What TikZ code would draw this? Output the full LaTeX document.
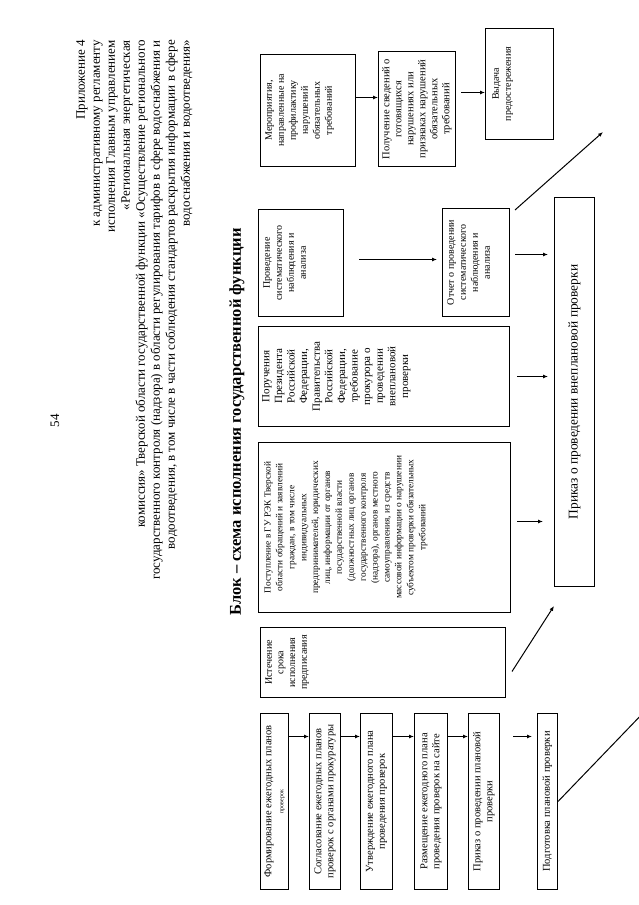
\documentclass[tikz,border=0pt]{standalone}
\usepackage{fontspec}
\setmainfont{Liberation Serif}
\usetikzlibrary{arrows.meta,positioning}

\tikzset{
  box/.style={draw, line width=1pt, inner sep=0pt, anchor=north west},
  txt/.style={align=center, inner sep=0pt},
  arr/.style={-{Latex[length=5pt,width=4pt]}, line width=1pt},
}

\begin{document}
\begin{tikzpicture}[x=1pt, y=1pt]
\useasboundingbox (0,0) rectangle (639,905);
% page is turned: draw it as the landscape sheet
\begin{scope}[shift={(639,0)}, rotate=90, transform shape]

\node[anchor=north east, align=right, inner sep=0pt, font=\fontsize{13}{15}\selectfont] (header) at (865,563)
  {Приложение 4\\
   к административному регламенту\\
   исполнения Главным управлением\\
   «Региональная энергетическая\\
   комиссия» Тверской области государственной функции «Осуществление регионального\\
   государственного контроля (надзора) в области регулирования тарифов в сфере водоснабжения и\\
   водоотведения, в том числе в части соблюдения стандартов раскрытия информации в сфере\\
   водоснабжения и водоотведения»};
\node[font=\fontsize{13}{15}\selectfont] (pagenum) at (484,584) {54};
\node[font=\bfseries\fontsize{16.5}{18}\selectfont] (title) at (483,402)
  {Блок – схема исполнения государственной функции};

% upper chain
\node[box, minimum width=112pt, minimum height=95pt] (merop) at (738,379) {};
\node[txt, font=\fontsize{10}{12}\selectfont, below=5pt of merop.north] (meropT)
  {Мероприятия,\\ направленные на\\ профилактику\\ нарушений\\ обязательных\\ требований};
\node[box, minimum width=115pt, minimum height=77pt] (poluch) at (738,261) {};
\node[txt, font=\fontsize{10.5}{12}\selectfont, below=4pt of poluch.north] (poluchT)
  {Получение сведений о\\ готовящихся\\ нарушениях или\\ признаках нарушений\\ обязательных\\ требований};
\node[box, minimum width=111pt, minimum height=68pt] (vydacha) at (765,154) {};
\node[txt, font=\fontsize{10}{12}\selectfont, below=7pt of vydacha.north] (vydachaT)
  {Выдача\\ предостережения};

% unplanned inspection
\node[box, minimum width=107pt, minimum height=85pt] (proved) at (588,381) {};
\node[txt, font=\fontsize{10}{12}\selectfont, below=5pt of proved.north] (provedT)
  {Проведение\\ систематического\\ наблюдения и\\ анализа};
\node[box, minimum width=108pt, minimum height=67pt] (otchet) at (588,197) {};
\node[txt, font=\fontsize{10}{12}\selectfont, below=5pt of otchet.north] (otchetT)
  {Отчет о проведении\\ систематического\\ наблюдения и\\ анализа};
\node[box, minimum width=100pt, minimum height=251pt] (poruch) at (478,381) {};
\node[txt, font=\fontsize{11}{12.6}\selectfont, below=4pt of poruch.north] (poruchT)
  {Поручения\\ Президента\\ Российской\\ Федерации,\\ Правительства\\ Российской\\ Федерации,\\ требование\\ прокурора о\\ проведении\\ внеплановой\\ проверки};
\node[box, minimum width=170pt, minimum height=252pt] (postup) at (292,381) {};
\node[txt, font=\fontsize{9.3}{11.9}\selectfont, below=6pt of postup.north] (postupT)
  {Поступление в ГУ РЭК Тверской\\ области обращений и заявлений\\ граждан, в том числе\\ индивидуальных\\
   предпринимателей, юридических\\ лиц, информации от органов\\ государственной власти\\ (должностных лиц органов\\
   государственного контроля\\ (надзора), органов местного\\ самоуправления, из средств\\ массовой информации о нарушении\\
   субъектом проверки обязательных\\ требований};
\node[box, minimum width=70pt, minimum height=245pt] (istech) at (207,379) {};
\node[txt, font=\fontsize{10}{11.7}\selectfont, below=5pt of istech.north] (istechT)
  {Истечение\\ срока\\ исполнения\\ предписания};
\node[box, minimum width=389pt, minimum height=40pt, font=\fontsize{13.4}{15}\selectfont] (prikazV) at (318,85)
  {Приказ о проведении внеплановой проверки};

% planned inspection
\tikzset{plan/.style={box, minimum width=176pt, align=center, font=\fontsize{10.5}{12}\selectfont}}
\node[plan, minimum height=28pt] (form) at (15,379)
  {Формирование ежегодных планов\\ {\fontsize{6}{7}\selectfont проверок}};
\node[plan, minimum height=31pt] (soglas) at (15,330)
  {Согласование ежегодных планов\\ проверок с органами прокуратуры};
\node[plan, minimum height=32pt] (utv) at (15,279)
  {Утверждение ежегодного плана\\ проведения проверок};
\node[plan, minimum height=33pt] (razm) at (15,225)
  {Размещение ежегодного плана\\ проведения проверок на сайте};
\node[plan, minimum height=31pt] (prikazP) at (15,171)
  {Приказ о проведении плановой\\ проверки};
\node[plan, minimum height=20pt] (podgot) at (15,102)
  {Подготовка плановой проверки};

\coordinate (warnEnd) at (773,36);
\coordinate (podEnd) at (196,-8);

% arrows
\draw[arr] ([xshift=13pt]merop.south) -- ([xshift=11.5pt]poluch.north);
\draw[arr, shorten <=5pt] ([xshift=16.5pt]poluch.south) -- ([xshift=-8.5pt]vydacha.north);
\draw[arr, shorten <=15pt, shorten >=5pt] ([xshift=3.5pt]proved.south) -- ([xshift=3pt]otchet.north);
\draw[arr, shorten <=5pt, shorten >=6pt] ([xshift=8pt]otchet.south) -- ([xshift=137.5pt]prikazV.north);
\draw[arr] ([shift={(-2pt,-5pt)}]otchet.south east) -- (warnEnd);
\draw[arr, shorten <=7pt, shorten >=6pt] (poruch.south) -- ([xshift=15.5pt]prikazV.north);
\draw[arr, shorten <=6pt, shorten >=11pt] ([xshift=6pt]postup.south) -- ([xshift=-129.5pt]prikazV.north);
\draw[arr] ([shift={(-9pt,-6pt)}]istech.south) -- ([xshift=-19pt]prikazV.north west);

\draw[arr] ([xshift=65pt]form.south) -- ([xshift=65pt]soglas.north);
\draw[arr] ([xshift=65pt]soglas.south) -- ([xshift=65pt]utv.north);
\draw[arr] ([xshift=65pt]utv.south) -- ([xshift=65pt]razm.north);
\draw[arr] ([xshift=65pt]razm.south) -- ([xshift=65pt]prikazP.north);
\draw[arr, shorten <=13pt, shorten >=5pt] ([xshift=65pt]prikazP.south) -- ([xshift=65pt]podgot.north);
\draw[line width=1pt] (podgot.south) -- (podEnd);

\end{scope}
\end{tikzpicture}
\end{document}
